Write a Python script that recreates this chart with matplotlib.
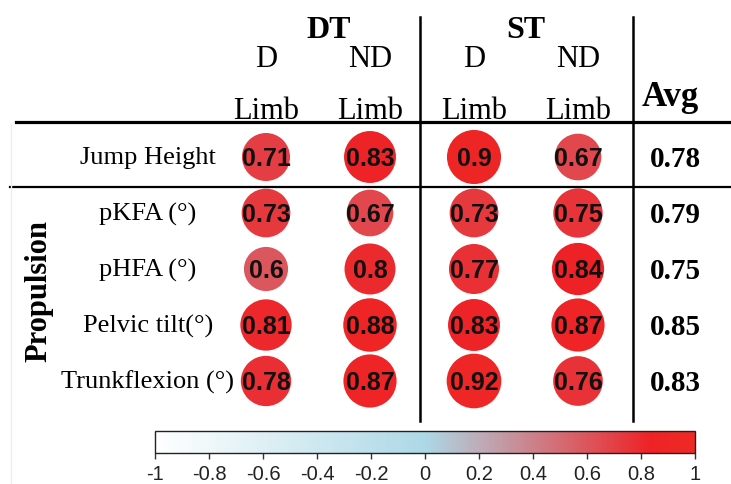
import numpy as np
import matplotlib
matplotlib.use("Agg")
import matplotlib.pyplot as plt
from matplotlib.colors import LinearSegmentedColormap, Normalize
from matplotlib.cm import ScalarMappable

# data
rows = ["Jump Height", "pKFA (°)", "pHFA (°)", "Pelvic tilt(°)", "Trunkflexion (°)"]
col_top = ["D", "ND", "D", "ND"]
col_bottom = ["Limb", "Limb", "Limb", "Limb"]
groups = ["DT", "ST"]
vals = np.array([
    [0.71, 0.83, 0.90, 0.67],
    [0.73, 0.67, 0.73, 0.75],
    [0.60, 0.80, 0.77, 0.84],
    [0.81, 0.88, 0.83, 0.87],
    [0.78, 0.87, 0.92, 0.76],
])
avg = ["0.78", "0.79", "0.75", "0.85", "0.83"]
cbar_ticks = [-1, -0.8, -0.6, -0.4, -0.2, 0, 0.2, 0.4, 0.6, 0.8, 1]

cmap = LinearSegmentedColormap.from_list(
    "wbr", [(0, "#FFFFFF"), (0.5, "#ADD8E6"), (0.92, "#EE2226"), (1, "#EE2A24")])
norm = Normalize(-1, 1)

serif = "Liberation Serif"
sans = "Liberation Sans"

fig = plt.figure(figsize=(7.31, 4.85), dpi=100)
ax = fig.add_axes([214 / 731, 1 - 410 / 485, 416 / 731, 280 / 485])
ax.set_xlim(-0.5, 3.5)
ax.set_ylim(4.5, -0.5)
ax.axis("off")

# circles
xx, yy = np.meshgrid(np.arange(4), np.arange(5))
ax.scatter(xx.ravel(), yy.ravel(), s=1684 * np.abs(vals.ravel()),
           c=vals.ravel(), cmap=cmap, norm=norm, edgecolors="none", zorder=2)
for i in range(5):
    for j in range(4):
        ax.text(j, i + 0.02, f"{vals[i, j]:g}", ha="center", va="center",
                fontsize=18, fontweight="bold", family=sans,
                color="#111111", zorder=3)
    ax.text(-1.135, i, rows[i], ha="center", va="center", fontsize=19, family=serif)
    ax.text(3.94, i + 0.02, avg[i], ha="center", va="center", fontsize=21,
            fontweight="bold", family=serif)

# headers
for j in range(4):
    ax.text(j, -1.625, col_top[j], ha="center", va="baseline", fontsize=22, family=serif)
    ax.text(j, -0.70, col_bottom[j], ha="center", va="baseline", fontsize=22, family=serif)
for g, gx in zip(groups, [0.6, 2.5]):
    ax.text(gx, -2.14, g, ha="center", va="baseline", fontsize=23,
            fontweight="bold", family=serif)
ax.text(3.89, -0.92, "Avg", ha="center", va="baseline", fontsize=25,
        fontweight="bold", family=serif)
ax.text(-2.18, 2.375, "Propulsion", ha="center", va="center", rotation=90,
        fontsize=22, fontweight="bold", family=serif)

# table rules
ax.plot([-2.404, 4.5], [-0.625, -0.625], color="black", lw=2.3, clip_on=False)
ax.plot([-2.46, 4.5], [0.536, 0.536], color="black", lw=1.6, clip_on=False)
for vx in [1.481, 3.529]:
    ax.plot([vx, vx], [-2.5, 4.71], color="black", lw=1.8, clip_on=False)
ax.plot([-2.45, -2.45], [-0.59, 5.9], color="#EEEEEE", lw=1, clip_on=False)

# colorbar
cax = fig.add_axes([155 / 731, 1 - 454 / 485, 540 / 731, 22 / 485])
cb = fig.colorbar(ScalarMappable(norm=norm, cmap=cmap), cax=cax, orientation="horizontal")
cb.set_ticks(cbar_ticks)
cb.set_ticklabels([f"{t:g}" for t in cbar_ticks], fontsize=14.5, family=sans, color="#222222")
cb.outline.set_edgecolor("#222222")
cb.outline.set_linewidth(1)
cax.tick_params(length=4, width=1, color="#333333", pad=4)

fig.savefig("out.png", dpi=100)
